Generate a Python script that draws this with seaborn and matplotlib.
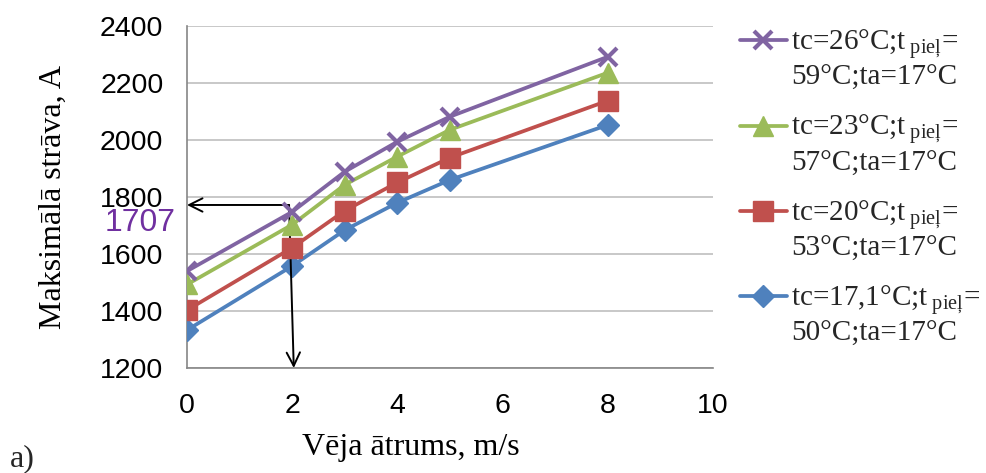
import matplotlib
matplotlib.use("Agg")
import matplotlib.pyplot as plt
from matplotlib.legend_handler import HandlerLine2D
import seaborn as sns
import numpy as np
import pandas as pd

# ---- data ----
wind_speed = [0, 2, 3, 4, 5, 8]
current_26 = [1540, 1748, 1889, 1994, 2082, 2292]
current_23 = [1493, 1703, 1843, 1942, 2036, 2236]
current_20 = [1403, 1622, 1752, 1851, 1938, 2138]
current_17 = [1333, 1558, 1684, 1780, 1860, 2053]

labels = [
    "tc=26°C;t$_{\\ \\mathregular{pieļ}}$=\n59°C;ta=17°C",
    "tc=23°C;t$_{\\ \\mathregular{pieļ}}$=\n57°C;ta=17°C",
    "tc=20°C;t$_{\\ \\mathregular{pieļ}}$=\n53°C;ta=17°C",
    "tc=17,1°C;t$_{\\ \\mathregular{pieļ}}$=\n50°C;ta=17°C",
]
series = [current_26, current_23, current_20, current_17]
colors = ["#8064A2", "#9BBB59", "#C0504D", "#4F81BD"]
markers = ["x", "^", "s", "D"]
msizes = [13, 14.5, 14, 11]

x_ticks = [0, 2, 4, 6, 8, 10]
y_ticks = [1200, 1400, 1600, 1800, 2000, 2200, 2400]

arrow_x0, arrow_x1, arrow_y = 1.94, 2.03, 1772
marked_value = "1707"

sns.set_theme(style="white")
plt.rcParams["font.family"] = ["Liberation Sans", "DejaVu Sans"]
plt.rcParams["mathtext.fontset"] = "custom"
plt.rcParams["mathtext.rm"] = "Liberation Serif"
plt.rcParams["mathtext.it"] = "Liberation Serif:italic"
plt.rcParams["mathtext.bf"] = "Liberation Serif:bold"

fig = plt.figure(figsize=(9.86, 4.73), dpi=100)
ax = fig.add_axes([187/986, 1-368/473, (713-187)/986, (368-26)/473])

for i in [3, 2, 1, 0]:
    df = pd.DataFrame({"v": wind_speed, "I": series[i]})
    sns.lineplot(data=df, x="v", y="I", ax=ax, color=colors[i], lw=2.7,
                 marker=markers[i], markersize=msizes[i],
                 markeredgecolor=colors[i], markerfacecolor=colors[i],
                 markeredgewidth=3 if markers[i] == "x" else 1,
                 label=labels[i], zorder=3 + (3 - i))

ax.set_xlim(0, 10)
ax.set_ylim(1200, 2400)
ax.set_xticks(x_ticks)
ax.set_yticks(y_ticks)
ax.set_xticklabels([str(t) for t in x_ticks])
ax.set_yticklabels([str(t) for t in y_ticks])
ax.tick_params(axis="both", length=0, labelsize=20.5, labelcolor="black")
ax.tick_params(axis="y", pad=17)
ax.tick_params(axis="x", pad=18)
ax.grid(axis="y", color="#BFBFBF", lw=1.2)
ax.grid(axis="x", visible=False)
for s in ["top", "right"]:
    ax.spines[s].set_visible(False)
for s in ["left", "bottom"]:
    ax.spines[s].set_color("#868686")
    ax.spines[s].set_linewidth(1.2)

ax.set_xlabel("Vēja ātrums, m/s", family="Liberation Serif", fontsize=23, color="black")
ax.set_ylabel("Maksimālā strāva, A", family="Liberation Serif", fontsize=23, color="black")
ax.xaxis.set_label_coords((411-187)/526, (368-433)/342)
ax.yaxis.set_label_coords((53-187)/526, 0.5)
ax.yaxis.label.set_verticalalignment("center")

# arrows
ap = dict(arrowstyle="->", color="black", lw=1.4, mutation_scale=24, shrinkA=0, shrinkB=0)
ax.annotate("", xy=(0, arrow_y), xytext=(arrow_x0, arrow_y), arrowprops=ap, annotation_clip=False)
ax.annotate("", xy=(arrow_x1, 1200), xytext=(arrow_x0, arrow_y), arrowprops=ap, annotation_clip=False)
ax.text(-0.22, 1708, marked_value, color="#7030A0", fontsize=23, ha="right", va="center", clip_on=False)

fig.text(10/986, 1-466/473, "a)", family="Liberation Serif", fontsize=23, va="baseline", ha="left")


class FirstLineHandler(HandlerLine2D):
    def create_artists(self, legend, orig_handle, xdescent, ydescent,
                       width, height, fontsize, trans):
        shift = 1.3 * fontsize
        return super().create_artists(legend, orig_handle, xdescent, ydescent - shift,
                                      width, height, fontsize, trans)


h, l = ax.get_legend_handles_labels()
order = [labels.index(x) for x in l]
pairs = sorted(zip(order, h, l))
leg = ax.legend([p[1] for p in pairs], [p[2] for p in pairs],
                loc="upper left", bbox_to_anchor=(740/986, 1-28/473),
                bbox_transform=fig.transFigure, frameon=False,
                prop={"family": "Liberation Serif", "size": 21},
                handlelength=1.6, handletextpad=0.15, labelspacing=0.75,
                borderpad=0, borderaxespad=0,
                handler_map={matplotlib.lines.Line2D: FirstLineHandler()})

fig.savefig("out.png", dpi=100)
